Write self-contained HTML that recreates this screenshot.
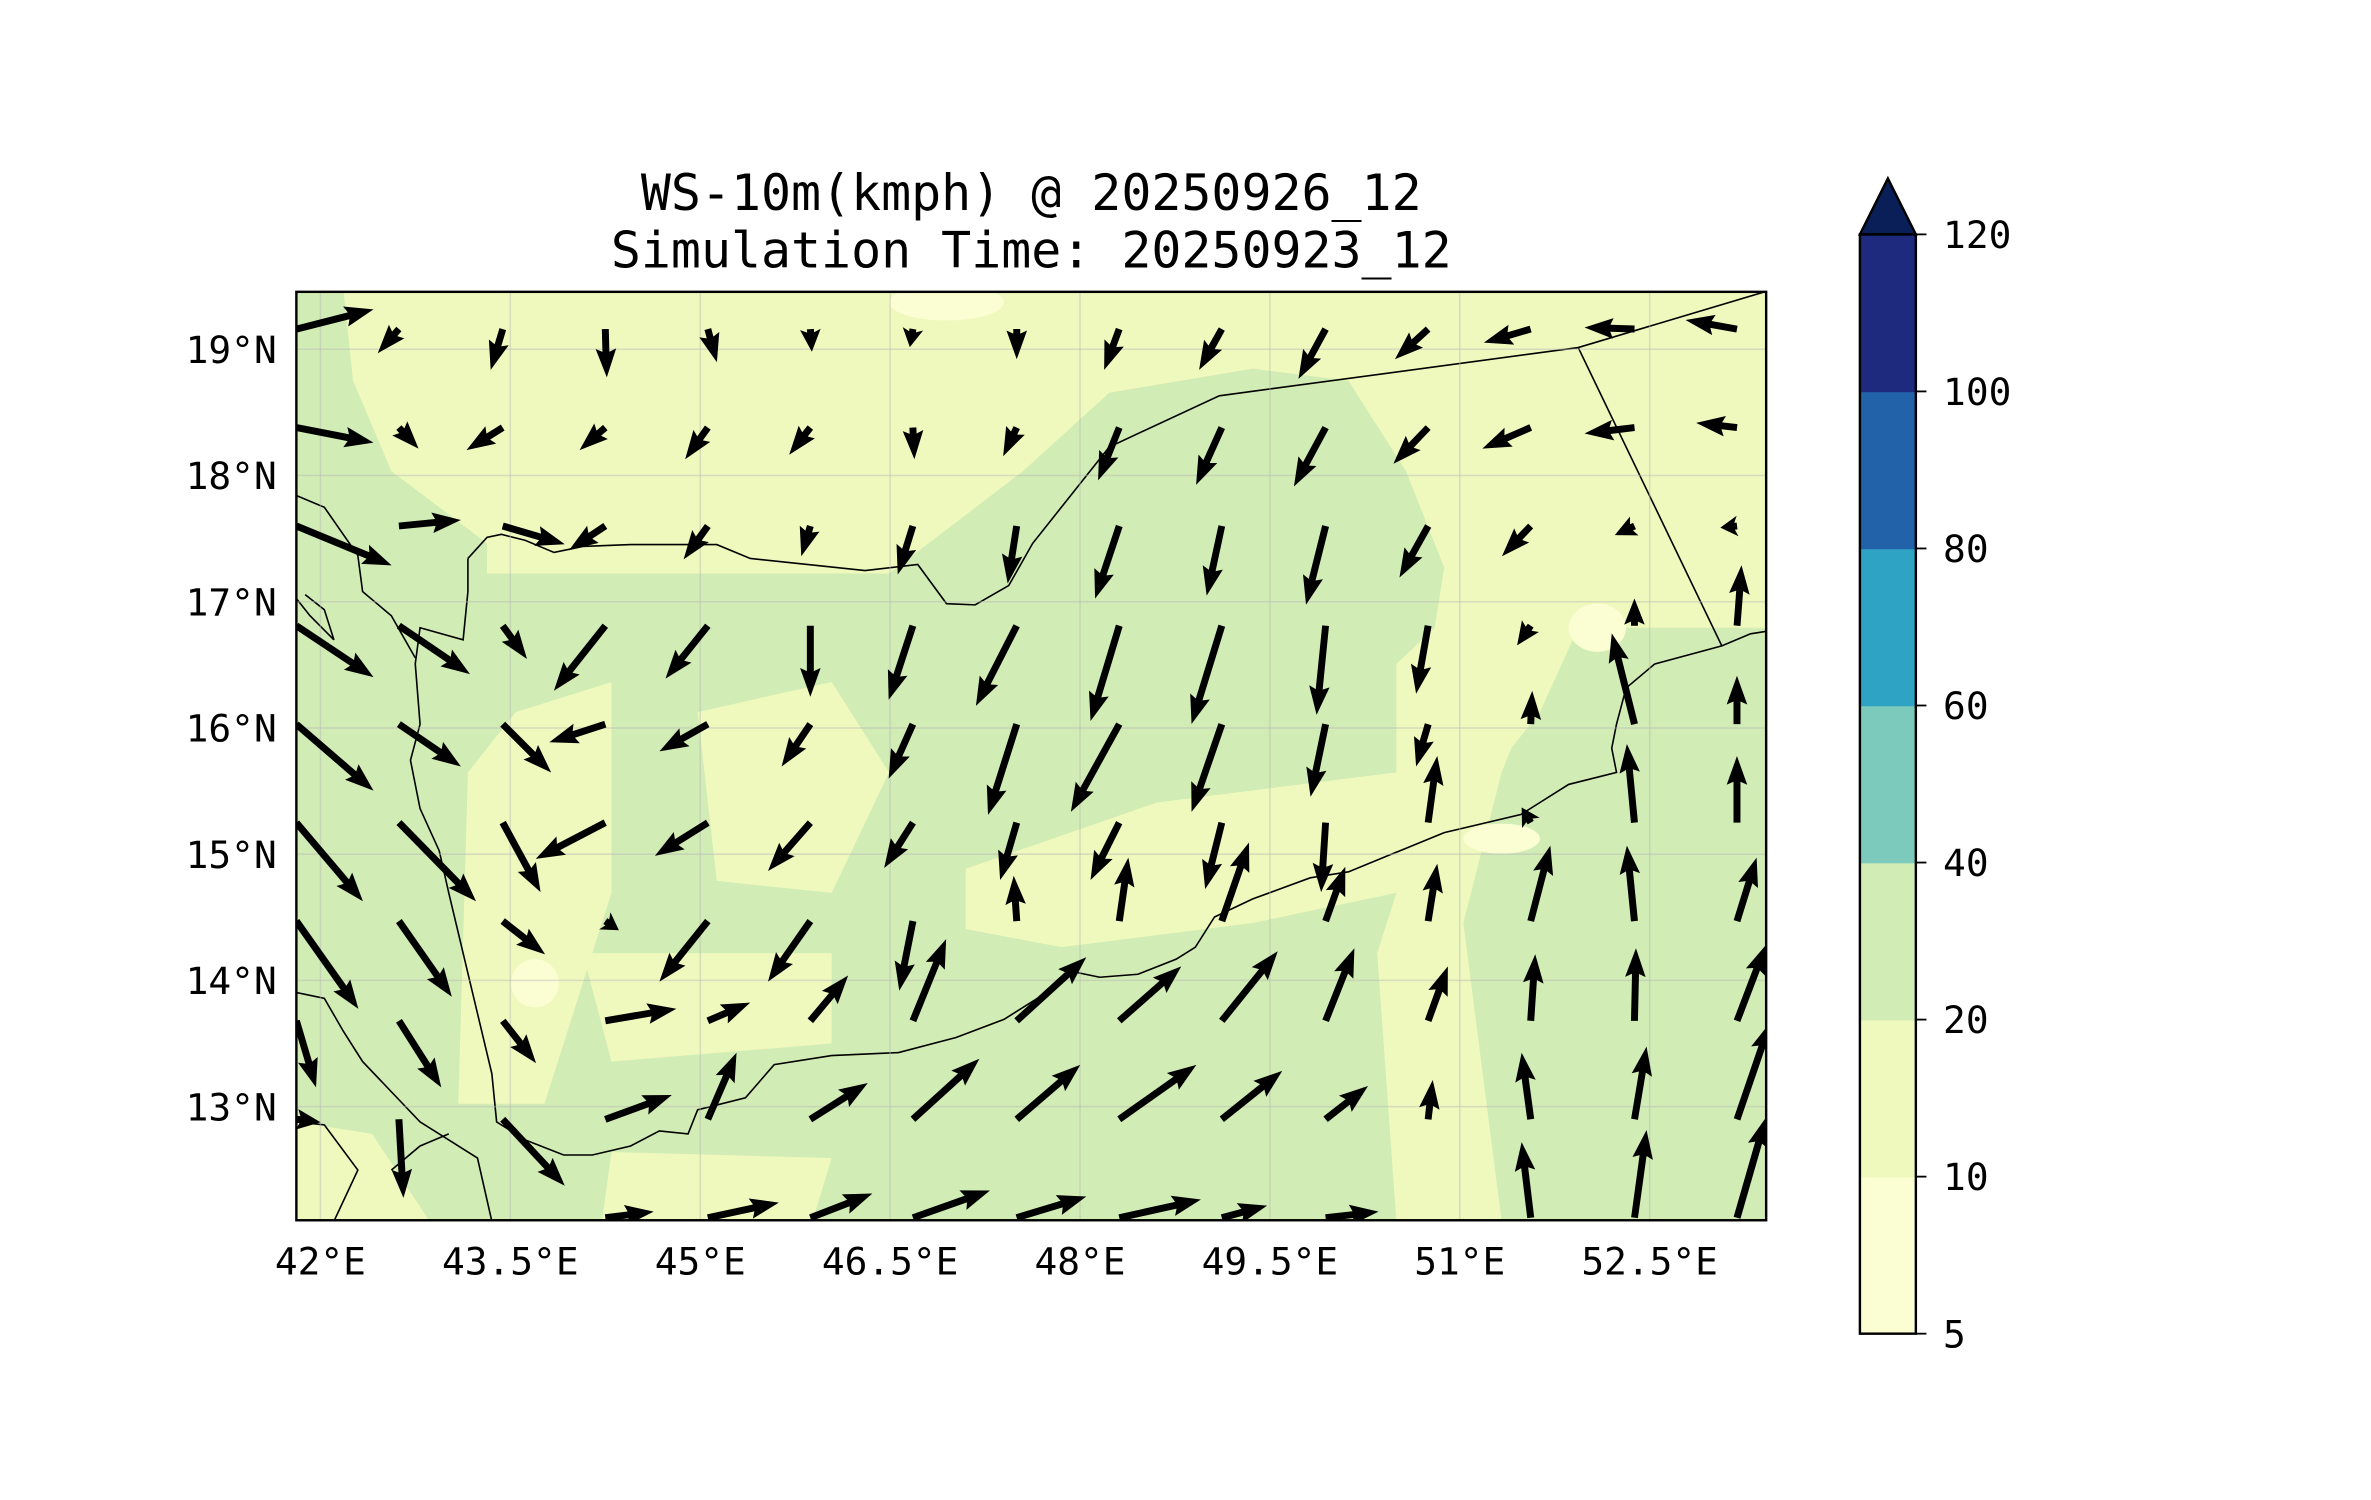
<!DOCTYPE html>
<html><head><meta charset="utf-8">
<style>
html,body{margin:0;padding:0;background:#fff;}
svg{display:block;}
text{font-family:"DejaVu Sans Mono","Liberation Mono",monospace;fill:#000;}
</style></head>
<body>
<svg id="fig" width="2371" height="1500" viewBox="0 0 1568 992" preserveAspectRatio="none" xmlns="http://www.w3.org/2000/svg">
  <defs>
    <clipPath id="frameclip"><rect x="196" y="193" width="972" height="614"/></clipPath>
  </defs>
  <rect width="1568" height="992" fill="#fff"/>
  <g>
    <text x="682" y="139" font-size="33" text-anchor="middle">WS-10m(kmph) @ 20250926_12</text>
    <text x="682" y="177" font-size="33" text-anchor="middle">Simulation Time: 20250923_12</text>
  </g>
  <g id="map" clip-path="url(#frameclip)">
    <rect x="196" y="193" width="972" height="614" fill="#eff9bd"/>
    <g transform="translate(195.5,192) scale(0.633,0.3985)">
      <g fill="#d1ecb4">
        <polygon points="0,0 50,0 60,150 100,300 200,420 200,1545 0,1545"/>
        <polygon points="200,470 620,470 760,300 850,170 1000,130 1100,150 1160,300 1200,460 1190,560 1150,620 1150,1000 1300,700 1340,560 1540,560 1540,1545 200,1545"/>
      </g>
      <g fill="#eff9bd">
        <polygon points="1160,620 1250,580 1300,640 1260,800 1220,1050 1260,1545 1150,1545 1130,1100 1150,1000"/>
        <polygon points="700,960 900,850 1150,800 1150,1000 1000,1050 800,1090 700,1060"/>
        <polygon points="230,700 330,650 330,1000 260,1350 170,1350 180,800"/>
        <polygon points="420,700 560,650 620,800 560,1000 440,980"/>
        <polygon points="300,1100 560,1100 560,1250 330,1280"/>
        <polygon points="0,1380 80,1400 140,1545 0,1545"/>
        <polygon points="330,1430 560,1440 540,1545 320,1545"/>
      </g>
      <g fill="#fbfdd3">
        <ellipse cx="680" cy="20" rx="60" ry="30"/>
        <ellipse cx="1260" cy="910" rx="40" ry="25"/>
        <ellipse cx="1360" cy="560" rx="30" ry="40"/>
        <ellipse cx="250" cy="1150" rx="25" ry="40"/>
      </g>
      <g fill="none" stroke="#000" stroke-width="1.6" vector-effect="non-scaling-stroke">
        <polyline vector-effect="non-scaling-stroke" points="180,445 200,410 215,405 240,415 270,435 300,425 350,422 440,422 475,445 595,465 650,455 680,520 710,522 745,490 770,420 850,260 965,175 1340,95 1540,0"/>
        <polyline vector-effect="non-scaling-stroke" points="1340,95 1490,590"/>
        <polyline vector-effect="non-scaling-stroke" points="1540,565 1520,570 1490,590 1420,620 1390,660 1380,720 1375,760 1380,800 1330,820 1300,850 1280,870 1200,900 1100,965 1060,975 1000,1010 960,1040 940,1090 920,1110 880,1135 840,1140 810,1130 780,1170 740,1210 690,1240 630,1265 560,1270 500,1285 470,1340 420,1360 410,1400 380,1395 350,1420 310,1435 280,1435 240,1410 210,1380 205,1300 190,1200 175,1100 160,1000 150,930 130,860 120,780 130,720 125,620 130,560 175,580 180,500 180,445"/>
        <polyline vector-effect="non-scaling-stroke" points="0,340 30,360 65,440 70,500 100,540 125,610"/>
        <polyline vector-effect="non-scaling-stroke" points="0,1165 30,1175 50,1230 70,1280 100,1330 130,1380 165,1415 190,1440 205,1545"/>
        <polyline vector-effect="non-scaling-stroke" points="0,1380 30,1385 65,1460 40,1545"/>
        <polyline vector-effect="non-scaling-stroke" points="100,1460 130,1420 160,1400"/>
        <polyline vector-effect="non-scaling-stroke" points="0,510 15,540 40,580 30,530 10,505"/>
      </g>
    </g>
    <g id="grid"></g>
    <g id="arrows"></g>
  </g>
  <rect x="196" y="193" width="972" height="614" fill="none" stroke="#000" stroke-width="1.6"/>
  <g id="xlabels"></g>
  <g id="ylabels"></g>
  <g id="colorbar"></g>
</svg>
<script>
const lonTicks = [42, 43.5, 45, 46.5, 48, 49.5, 51, 52.5];
const lonTickLabels = ["42°E","43.5°E","45°E","46.5°E","48°E","49.5°E","51°E","52.5°E"];
const latTicks = [19, 18, 17, 16, 15, 14, 13];
const latTickLabels = ["19°N","18°N","17°N","16°N","15°N","14°N","13°N"];
const gridLons = [41.81,42.62,43.44,44.25,45.06,45.87,46.68,47.50,48.31,49.12,49.94,50.75,51.56,52.38,53.19];
const gridLats = [19.16,18.38,17.60,16.81,16.03,15.25,14.47,13.68,12.90,12.12];
// wind components (u eastward, v northward), per row
const uRows = [
 [51,-14,-8,1,6,1,-2,0,-10,-15,-18,-22,-31,-33,-34],
 [51,13,-24,-17,-15,-14,1,-9,-14,-17,-21,-23,-32,-33,-27],
 [63,41,41,-24,-16,-6,-10,-6,-16,-10,-13,-19,-19,-13,-11],
 [51,47,16,-34,-28,0,-16,-27,-19,-20,-6,-8,-9,0,3],
 [51,41,32,-37,-32,-19,-16,-19,-32,-20,-10,-8,1,-15,0],
 [44,51,25,-46,-35,-28,-19,-11,-19,-11,-3,6,-6,-5,0],
 [41,35,28,9,-32,-28,-9,-2,6,18,13,6,13,-5,13],
 [13,28,22,47,28,25,22,46,41,37,19,13,3,1,19],
 [16,3,41,44,19,38,44,42,51,40,28,3,-6,8,22],
 [0,0,0,32,47,41,51,46,54,30,35,0,-6,8,19]
];
const vRows = [
 [13,-16,-27,-32,-22,-15,-12,-20,-27,-27,-33,-20,-9,1,6],
 [-10,-14,-15,-15,-21,-18,-21,-19,-35,-38,-39,-24,-14,-4,3],
 [-26,4,-12,-16,-22,-20,-32,-38,-48,-46,-52,-34,-20,-6,-1],
 [-34,-32,-22,-43,-35,-47,-49,-53,-63,-65,-59,-45,-13,18,40],
 [-44,-28,-32,-12,-18,-28,-36,-60,-58,-58,-48,-28,22,60,32],
 [-52,-52,-46,-24,-22,-32,-30,-38,-38,-44,-46,44,10,52,44],
 [-58,-50,-22,-6,-40,-40,-46,30,42,52,36,38,50,50,42],
 [-44,-44,-28,8,12,30,54,42,36,46,48,36,44,48,50],
 [-2,-52,-44,16,44,24,40,36,36,32,22,26,44,48,64],
 [0,0,0,4,10,16,18,14,12,8,4,0,50,58,66]
];
const cbBounds = [5,10,20,40,60,80,100,120];
const cbLabels = ["5","10","20","40","60","80","100","120"];
const cbColors = ["#fbfdd3","#eff9bd","#d1ecb4","#7ccabb","#2ea3c4","#2262a8","#1d2a7e"];
const cbExtendColor = "#0a1f57";

const NS = "http://www.w3.org/2000/svg";
const X0 = 196, X1 = 1168, Y0 = 193, Y1 = 807;
const LON0 = 41.81, LON1 = 53.42, LAT0 = 12.10, LAT1 = 19.455;
function xOf(lon){ return X0 + (lon - LON0) / (LON1 - LON0) * (X1 - X0); }
function yOf(lat){ return Y1 - (lat - LAT0) / (LAT1 - LAT0) * (Y1 - Y0); }
const uScale = 1, vScale = 1;
function mk(tag, attrs, parent){
  const e = document.createElementNS(NS, tag);
  for (const k in attrs) e.setAttribute(k, attrs[k]);
  parent.appendChild(e);
  return e;
}
const grid = document.getElementById('grid');
lonTicks.forEach((lon) => {
  const l = mk('line', {x1:xOf(lon), x2:xOf(lon), y1:Y0, y2:Y1, stroke:'#b8b8b8', 'stroke-opacity':'0.45', 'stroke-width':'1'}, grid);
  
  
});
latTicks.forEach((lat) => {
  const l = mk('line', {x1:X0, x2:X1, y1:yOf(lat), y2:yOf(lat), stroke:'#b8b8b8', 'stroke-opacity':'0.45', 'stroke-width':'1'}, grid);
  
  
});
const xl = document.getElementById('xlabels');
lonTicks.forEach((lon, i) => {
  const t = mk('text', {x:xOf(lon), y:843, 'font-size':'25', 'text-anchor':'middle'}, xl);
  t.textContent = lonTickLabels[i];
  
  
});
const yl = document.getElementById('ylabels');
latTicks.forEach((lat, i) => {
  const t = mk('text', {x:183, y:yOf(lat)+9, 'font-size':'25', 'text-anchor':'end'}, yl);
  t.textContent = latTickLabels[i];
  
  
});
const ar = document.getElementById('arrows');
gridLats.forEach((lat, j) => {
  gridLons.forEach((lon, i) => {
    const dx = uRows[j][i] * uScale, dy = -vRows[j][i] * vScale;
    const L = Math.hypot(dx, dy);
    if (L < 1) return;
    const x = xOf(lon), y = yOf(lat);
    const ux = dx / L, uy = dy / L, px = -uy, py = ux;
    const hw = 2.3, hl = Math.min(17, L * 0.85), hh = 6.8;
    const bx = x + dx - ux * hl, by = y + dy - uy * hl;
    const pts = [
      [x + px*hw, y + py*hw], [bx + px*hw, by + py*hw], [bx + px*hh - ux*2, by + py*hh - uy*2],
      [x + dx, y + dy],
      [bx - px*hh - ux*2, by - py*hh - uy*2], [bx - px*hw, by - py*hw], [x - px*hw, y - py*hw]
    ].map(p => p[0].toFixed(1) + ',' + p[1].toFixed(1)).join(' ');
    const a = mk('polygon', {points: pts, fill:'#000'}, ar);
    
    
  });
});
const cb = document.getElementById('colorbar');
const CX0 = 1230, CX1 = 1267, CT = 155, CB = 882;
function cbY(i){ return CB - i / (cbBounds.length - 1) * (CB - CT); }
cbColors.forEach((c, i) => {
  const r = mk('rect', {x:CX0, y:cbY(i+1), width:CX1-CX0, height:cbY(i)-cbY(i+1)+0.5, fill:c}, cb);
  
  
});
const tri = mk('polygon', {points:`${CX0},${CT} ${(CX0+CX1)/2},118 ${CX1},${CT}`, fill:cbExtendColor, stroke:'#000', 'stroke-width':'1.6'}, cb);


const ob = mk('rect', {x:CX0, y:CT, width:CX1-CX0, height:CB-CT, fill:'none', stroke:'#000', 'stroke-width':'1.6'}, cb);


cbBounds.forEach((b, i) => {
  const tk = mk('line', {x1:CX1, x2:CX1+7, y1:cbY(i), y2:cbY(i), stroke:'#000', 'stroke-width':'1.2'}, cb);
  
  
  const t = mk('text', {x:1285, y:cbY(i)+9, 'font-size':'25'}, cb);
  t.textContent = cbLabels[i];
  
  
});
</script>
</body></html>
